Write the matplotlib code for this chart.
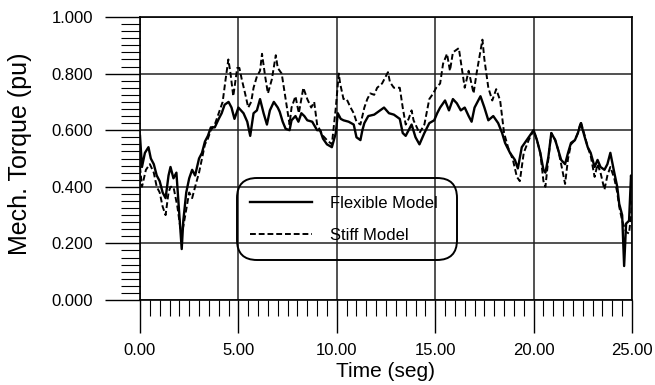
import matplotlib
matplotlib.use("Agg")
import matplotlib.pyplot as plt
from matplotlib.patches import FancyBboxPatch
from matplotlib.ticker import MultipleLocator, FormatStrFormatter

plt.rcParams['font.family'] = ['Liberation Sans', 'DejaVu Sans']

# Flexible model (solid)
t_flex = [0.0, 0.1, 0.25, 0.43, 0.55, 0.7, 0.85, 1.0, 1.15, 1.3, 1.45, 1.55, 1.7, 1.85, 1.95,
          2.05, 2.12, 2.2, 2.35, 2.5, 2.65, 2.8, 3.0, 3.15, 3.3, 3.45, 3.6, 3.8, 4.0, 4.15,
          4.3, 4.5, 4.65, 4.8, 5.0, 5.26, 5.45, 5.6, 5.77, 5.94, 6.1, 6.28, 6.45, 6.6, 6.8,
          7.0, 7.1, 7.25, 7.4, 7.6, 7.7, 7.9, 8.05, 8.2, 8.35, 8.5, 8.75, 9.0, 9.15, 9.3,
          9.5, 9.75, 9.95, 10.05, 10.2, 10.34, 10.6, 10.86, 11.0, 11.2, 11.3, 11.4, 11.6, 11.9,
          12.1, 12.4, 12.65, 12.9, 13.2, 13.35, 13.5, 13.65, 13.8, 14.0, 14.2, 14.45, 14.7,
          14.95, 15.1, 15.25, 15.5, 15.7, 15.9, 16.1, 16.3, 16.5, 16.7, 16.85, 17.0, 17.3,
          17.5, 17.7, 17.95, 18.2, 18.4, 18.55, 18.8, 19.05, 19.2, 19.4, 19.65, 20.0, 20.17,
          20.34, 20.5, 20.6, 20.75, 20.9, 21.1, 21.25, 21.4, 21.6, 21.75, 21.9, 22.1, 22.25,
          22.4, 22.6, 22.75, 22.9, 23.1, 23.25, 23.4, 23.6, 23.75, 23.9, 24.1, 24.25, 24.35,
          24.5, 24.6, 24.7, 24.85, 24.95, 25.0]
flex = [0.58, 0.47, 0.52, 0.54, 0.50, 0.48, 0.44, 0.42, 0.38, 0.36, 0.44, 0.47, 0.43, 0.45, 0.35,
        0.25, 0.18, 0.28, 0.38, 0.43, 0.46, 0.44, 0.50, 0.52, 0.56, 0.58, 0.61, 0.61, 0.64, 0.66,
        0.69, 0.70, 0.68, 0.64, 0.68, 0.66, 0.63, 0.58, 0.66, 0.67, 0.71, 0.66, 0.62, 0.67, 0.70,
        0.68, 0.665, 0.63, 0.605, 0.60, 0.635, 0.65, 0.63, 0.66, 0.65, 0.635, 0.63, 0.60, 0.60, 0.57,
        0.55, 0.54, 0.59, 0.66, 0.64, 0.635, 0.63, 0.62, 0.575, 0.565, 0.60, 0.625, 0.65, 0.655,
        0.665, 0.68, 0.66, 0.655, 0.64, 0.59, 0.58, 0.60, 0.62, 0.575, 0.55, 0.59, 0.625,
        0.635, 0.66, 0.68, 0.705, 0.67, 0.71, 0.695, 0.67, 0.68, 0.65, 0.63, 0.68, 0.72,
        0.68, 0.635, 0.65, 0.625, 0.59, 0.555, 0.52, 0.495, 0.465, 0.54, 0.565, 0.60, 0.565,
        0.52, 0.46, 0.45, 0.505, 0.59, 0.565, 0.53, 0.495, 0.48, 0.52, 0.555, 0.565, 0.59,
        0.625, 0.575, 0.54, 0.52, 0.47, 0.495, 0.47, 0.46, 0.48, 0.52, 0.45, 0.40, 0.34,
        0.30, 0.12, 0.27, 0.28, 0.44, 0.40]

# Stiff model (dashed)
t_stiff = [0.0, 0.1, 0.3, 0.5, 0.7, 0.85, 1.0, 1.15, 1.3, 1.45, 1.55, 1.7, 1.9, 2.0, 2.1,
           2.2, 2.3, 2.5, 2.65, 2.8, 3.0, 3.15, 3.3, 3.45, 3.6, 3.8, 4.0, 4.2, 4.35, 4.49,
           4.6, 4.74, 4.94, 5.05, 5.17, 5.34, 5.5, 5.65, 5.77, 5.94, 6.1, 6.2, 6.36, 6.5, 6.7,
           6.9, 7.0, 7.2, 7.4, 7.6, 7.7, 7.9, 8.07, 8.3, 8.5, 8.7, 8.85, 9.0, 9.3, 9.5,
           9.75, 9.95, 10.1, 10.17, 10.34, 10.5, 10.7, 10.86, 11.0, 11.2, 11.4, 11.55, 11.7, 11.9,
           12.05, 12.3, 12.6, 12.7, 12.9, 13.2, 13.35, 13.5, 13.65, 13.8, 13.9, 14.2, 14.45, 14.7,
           14.9, 15.05, 15.25, 15.4, 15.6, 15.75, 15.9, 16.2, 16.35, 16.5, 16.7, 16.95, 17.1, 17.4,
           17.5, 17.7, 17.9, 18.1, 18.3, 18.5, 18.7, 18.95, 19.15, 19.3, 19.5, 19.75, 20.0, 20.17,
           20.34, 20.5, 20.6, 20.75, 20.9, 21.1, 21.25, 21.4, 21.6, 21.75, 21.9, 22.1, 22.25, 22.4,
           22.6, 22.75, 22.9, 23.1, 23.25, 23.4, 23.6, 23.75, 23.9, 24.1, 24.25, 24.35, 24.5, 24.7,
           24.85, 24.95, 25.0]
stiff = [0.47, 0.40, 0.46, 0.48, 0.45, 0.40, 0.38, 0.33, 0.30, 0.38, 0.40, 0.40, 0.33, 0.28, 0.23,
         0.26, 0.30, 0.38, 0.36, 0.40, 0.45, 0.50, 0.55, 0.57, 0.60, 0.62, 0.66, 0.70, 0.78, 0.85,
         0.80, 0.72, 0.82, 0.82, 0.78, 0.73, 0.68, 0.70, 0.75, 0.79, 0.81, 0.87, 0.79, 0.73, 0.78,
         0.865, 0.82, 0.80, 0.71, 0.62, 0.68, 0.72, 0.66, 0.75, 0.71, 0.68, 0.70, 0.62, 0.58, 0.565,
         0.55, 0.68, 0.80, 0.765, 0.71, 0.71, 0.68, 0.66, 0.63, 0.62, 0.68, 0.71, 0.73, 0.725,
         0.75, 0.765, 0.805, 0.77, 0.75, 0.75, 0.68, 0.62, 0.64, 0.67, 0.635, 0.59, 0.62, 0.71,
         0.73, 0.75, 0.765, 0.835, 0.87, 0.81, 0.875, 0.89, 0.82, 0.75, 0.81, 0.73, 0.80, 0.92,
         0.85, 0.75, 0.705, 0.745, 0.705, 0.59, 0.54, 0.495, 0.435, 0.42, 0.52, 0.565, 0.60, 0.565,
         0.52, 0.42, 0.40, 0.50, 0.59, 0.565, 0.53, 0.48, 0.41, 0.50, 0.55, 0.565, 0.59, 0.63,
         0.58, 0.54, 0.51, 0.435, 0.48, 0.45, 0.39, 0.44, 0.47, 0.43, 0.38, 0.33, 0.28, 0.24,
         0.235, 0.30, 0.35]

fig = plt.figure(figsize=(6.55, 3.85), dpi=100)
ax = fig.add_axes([140 / 655, 85 / 385, 492 / 655, 283 / 385])

ax.plot(t_flex, flex, color='black', lw=1.7, label='Flexible Model', zorder=3)
ax.plot(t_stiff, stiff, color='black', lw=1.4, ls=(0, (3, 1.5)), label='Stiff Model', zorder=3)

ax.set_xlim(0, 25)
ax.set_ylim(0, 1.0)
ax.xaxis.set_major_locator(MultipleLocator(5))
ax.xaxis.set_minor_locator(MultipleLocator(0.5))
ax.yaxis.set_major_locator(MultipleLocator(0.2))
ax.yaxis.set_minor_locator(MultipleLocator(0.025))
ax.xaxis.set_major_formatter(FormatStrFormatter('%.2f'))
ax.yaxis.set_major_formatter(FormatStrFormatter('%.3f'))

ax.grid(True, which='major', color='#222222', lw=1.1)
ax.tick_params(axis='y', which='major', direction='out', length=25, width=1.0, pad=9, labelsize=12)
ax.tick_params(axis='y', which='minor', direction='out', length=14, width=0.8)
ax.tick_params(axis='x', which='major', direction='out', length=24, width=1.0, pad=7, labelsize=12)
ax.tick_params(axis='x', which='minor', direction='out', length=11.5, width=0.8)
for s in ax.spines.values():
    s.set_linewidth(1.2)

ax.set_xlabel('Time (seg)', fontsize=15)
ax.set_ylabel('Mech. Torque (pu)', fontsize=18)
ax.xaxis.set_label_coords(0.5, -0.254)
ax.xaxis.label.set_va('center')
ax.yaxis.set_label_coords(-0.244, 0.516)
ax.yaxis.label.set_va('center')

# rounded legend frame
box = FancyBboxPatch((97 / 492, 40 / 283), 220 / 492, 82 / 283,
                     boxstyle='round,pad=0,rounding_size=%f' % (20 / 492),
                     mutation_aspect=492 / 283, transform=ax.transAxes,
                     facecolor='none', edgecolor='black', lw=1.4, zorder=4)
ax.add_patch(box)
leg = ax.legend(loc='center left', bbox_to_anchor=(110 / 492, 80.5 / 283), frameon=False,
                fontsize=12, handlelength=3.7, handletextpad=1.1, labelspacing=1.0,
                borderpad=0, borderaxespad=0)

fig.savefig('out.png', dpi=100)
